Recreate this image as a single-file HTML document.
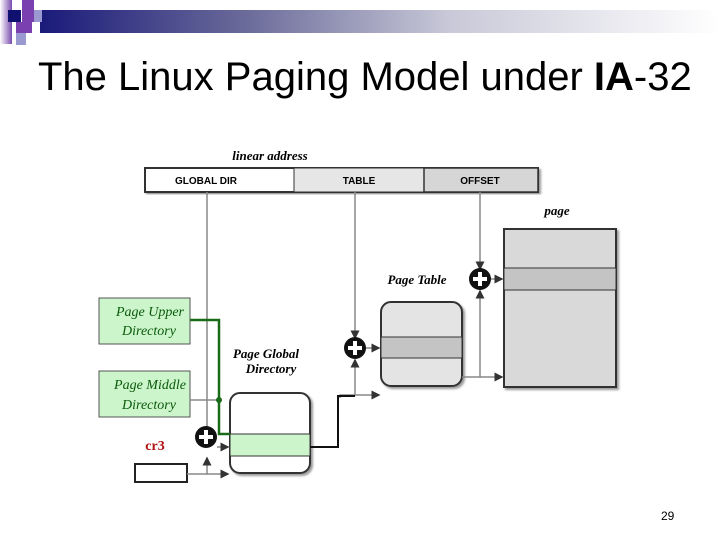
<!DOCTYPE html>
<html><head><style>
body{margin:0;width:720px;height:540px;background:#fff;position:relative;overflow:hidden;font-family:"Liberation Sans",sans-serif}
.bar{position:absolute;left:40px;top:10px;width:680px;height:23px;background:linear-gradient(to right,#1a1a7a,#6a6a9a 30%,#c8c8d8 60%,#fff)}
.sq{position:absolute}
h1{position:absolute;left:38px;top:55px;margin:0;font-weight:normal;font-size:40px;color:#000;white-space:nowrap}
</style></head><body>
<div class="bar"></div>
<div class="sq" style="left:0;top:0;width:12px;height:44px;background:linear-gradient(to right,#fff,#7a4ab0)"></div>
<div class="sq" style="left:8px;top:10px;width:13px;height:12px;background:#101070"></div>
<div class="sq" style="left:22px;top:0;width:12px;height:12px;background:#7a40b0"></div>
<div class="sq" style="left:22px;top:10px;width:12px;height:12px;background:#7a40b0"></div>
<div class="sq" style="left:34px;top:10px;width:8px;height:12px;background:#9a9ad0"></div>
<div class="sq" style="left:16px;top:22px;width:16px;height:11px;background:#7a40b0"></div>
<div class="sq" style="left:16px;top:33px;width:10px;height:12px;background:#9a9ad0"></div>
<h1>The Linux Paging Model under <b>IA</b>-32</h1>
<svg width="720" height="540" style="position:absolute;left:0;top:0" font-family="Liberation Serif,serif">
<defs><marker id="a" markerWidth="6" markerHeight="6" refX="5" refY="3" orient="auto"><path d="M0,0L6,3L0,6z" fill="#333"/></marker>
<filter id="s"><feDropShadow dx="2" dy="2" stdDeviation="1" flood-color="#999"/></filter></defs>
<text x="270" y="160" font-size="13" font-style="italic" font-weight="bold" text-anchor="middle">linear address</text>
<g filter="url(#s)"><rect x="145" y="168" width="393" height="24" fill="#fff" stroke="#333" stroke-width="2"/></g>
<rect x="294" y="168" width="130" height="24" fill="#e6e6e6" stroke="#333"/>
<rect x="424" y="168" width="114" height="24" fill="#d6d6d6" stroke="#333" stroke-width="1.5"/>
<g font-family="Liberation Sans,sans-serif" font-size="10" font-weight="bold" text-anchor="middle"><text x="206" y="184">GLOBAL DIR</text><text x="359" y="184">TABLE</text><text x="480" y="184">OFFSET</text></g>
<text x="557" y="215" font-size="13" font-style="italic" font-weight="bold" text-anchor="middle">page</text>
<g filter="url(#s)"><rect x="504" y="229" width="112" height="158" fill="#d9d9d9" stroke="#333" stroke-width="2"/></g>
<rect x="504" y="268" width="112" height="22" fill="#c4c4c4" stroke="#333"/>
<text x="417" y="284" font-size="13" font-style="italic" font-weight="bold" text-anchor="middle">Page Table</text>
<g filter="url(#s)"><rect x="381" y="302" width="81" height="84" rx="10" fill="#e4e4e4" stroke="#333" stroke-width="2"/></g>
<rect x="381" y="337" width="81" height="21" fill="#c4c4c4" stroke="#333"/>
<text x="266" y="358" font-size="13" font-style="italic" font-weight="bold" text-anchor="middle">Page Global</text>
<text x="271" y="373" font-size="13" font-style="italic" font-weight="bold" text-anchor="middle">Directory</text>
<g filter="url(#s)"><rect x="230" y="393" width="80" height="80" rx="10" fill="#fff" stroke="#333" stroke-width="2"/></g>
<rect x="230" y="434" width="80" height="22" fill="#ccf5cc" stroke="#333"/>
<rect x="99" y="298" width="91" height="46" fill="#ccf5cc" stroke="#555"/>
<rect x="99" y="371" width="91" height="46" fill="#ccf5cc" stroke="#555"/>
<g fill="#0a5a0a" font-size="14" font-style="italic" text-anchor="middle"><text x="150" y="316">Page Upper</text><text x="149" y="335">Directory</text><text x="150" y="389">Page Middle</text><text x="149" y="409">Directory</text></g>
<text x="155" y="450" fill="#b01010" font-size="14" font-weight="bold" text-anchor="middle">cr3</text>
<rect x="135" y="464" width="52" height="18" fill="#fff" stroke="#222" stroke-width="2"/>
<g stroke="#888" stroke-width="1.5" fill="none">
<line x1="207" y1="192" x2="207" y2="437" marker-end="url(#a)"/>
<line x1="355" y1="192" x2="355" y2="338" marker-end="url(#a)"/>
<line x1="480" y1="192" x2="480" y2="269" marker-end="url(#a)"/>
<polyline points="187,474 207,474 207,458" marker-end="url(#a)"/>
<line x1="207" y1="474" x2="228" y2="474" marker-end="url(#a)"/>
<line x1="217" y1="447" x2="228" y2="447" marker-end="url(#a)"/>
<polyline points="340,398 340,395 355,395 355,360" marker-end="url(#a)"/>
<line x1="355" y1="395" x2="379" y2="395" marker-end="url(#a)"/>
<line x1="366" y1="348" x2="379" y2="348" marker-end="url(#a)"/>
<polyline points="462,377 480,377 480,291" marker-end="url(#a)"/>
<line x1="480" y1="377" x2="502" y2="377" marker-end="url(#a)"/>
<line x1="491" y1="279" x2="502" y2="279" marker-end="url(#a)"/>
<line x1="190" y1="400" x2="219" y2="400"/>
</g>
<polyline points="310,447 338,447 338,396 355,396" stroke="#111" stroke-width="2" fill="none"/>
<polyline points="190,320 219,320 219,434 230,434" stroke="#1a6a1a" stroke-width="2.5" fill="none"/>
<circle cx="219" cy="400" r="3" fill="#1a6a1a"/>
<g fill="#111"><circle cx="206" cy="437" r="11"/><circle cx="355" cy="348" r="11"/><circle cx="480" cy="279" r="11"/></g>
<g stroke="#fff" stroke-width="4"><path d="M199 437h14M206 430v14M348 348h14M355 341v14M473 279h14M480 272v14"/></g>
</svg>
<div style="position:absolute;left:661px;top:509px;font-size:12px">29</div>
</body></html>
